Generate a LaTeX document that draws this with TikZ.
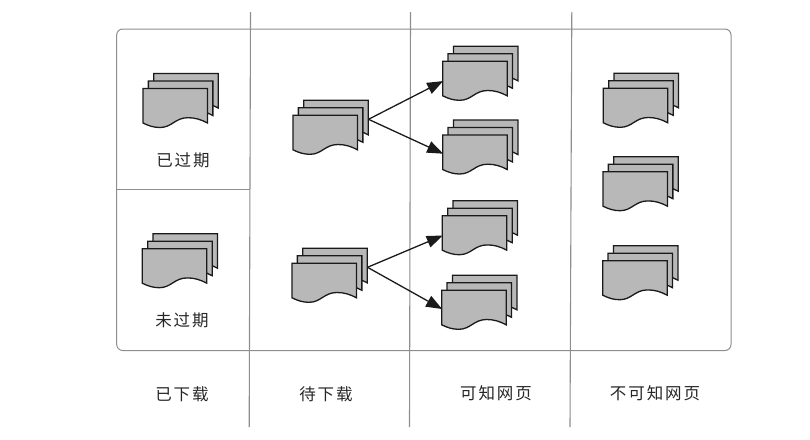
\documentclass[tikz,border=0pt]{standalone}
\usepackage{fontspec}
\newfontfamily\cjkfont[LetterSpace=12]{Noto Sans CJK SC}
\usetikzlibrary{arrows.meta}
\definecolor{sheet}{HTML}{B8B8B8}
\definecolor{rulegray}{HTML}{8E8E8E}
\definecolor{ink}{HTML}{1A1A1A}
\tikzset{
  sheetshape/.style={draw=ink,line width=1.3pt,fill=sheet,line join=miter},
  frameline/.style={draw=rulegray,line width=1pt},
  gridline/.style={draw=rulegray,line width=1.1pt},
  flow/.style={draw=ink,line width=1.3pt,-{Triangle[length=16pt,width=12pt]},shorten >=-0.5pt},
  caption/.style={font=\fontsize{16.5}{16.5}\selectfont\cjkfont,text=black!85,inner sep=0pt,anchor=center},
  docs/.pic={
    \foreach \dx/\dy in {10.7/-15,5.35/-7.5,0/0}{
      \path[sheetshape,shift={(\dx,\dy)}] (0,0) -- (64.5,0) -- (64.5,34.5)
        .. controls (58,31) and (52,29.2) .. (45,29.2)
        .. controls (32,29.2) and (29,39) .. (17,39)
        .. controls (11,39) and (6,37.5) .. (0,34.5) -- cycle;
    }
    \coordinate (-out) at (75.5,4);
    \coordinate (-in) at (0,20);
    \coordinate (-inlow) at (0,18.5);
  }
}
\begin{document}
\begin{tikzpicture}[x=1pt,y=-1pt]
\useasboundingbox (0,0) rectangle (810,439);
% frame and grid
\draw[frameline,rounded corners=6pt] (116.7,29) rectangle (731,350.5);
\draw[frameline] (116.7,189.7) -- (250,189.7);
\draw[gridline] (250.5,12) -- (249.2,427);
\draw[gridline] (410.5,12) -- (409.5,427);
\draw[gridline] (571.8,12) -- (570,427);
% stacks
\pic (exp) at (143,88.5) {docs};
\pic (fresh) at (142.3,248.7) {docs};
\pic (wa) at (293,115.3) {docs};
\pic (wb) at (292,263.3) {docs};
\pic (ka) at (442.7,61.3) {docs};
\pic (kb) at (442.7,135) {docs};
\pic (kc) at (442.3,215.7) {docs};
\pic (kd) at (441.7,290.3) {docs};
\pic (ua) at (603.3,88.3) {docs};
\pic (ub) at (603,171.7) {docs};
\pic (uc) at (602.7,260.7) {docs};
% connectors
\draw[flow] (wa-out) -- (ka-in);
\draw[flow] (wa-out) -- (kb-inlow);
\draw[flow] (wb-out) -- (kc-in);
\draw[flow] (wb-out) -- (kd-inlow);
% labels
\node[caption] (l1) at (183,160) {已过期};
\node[caption] (l2) at (182,320.7) {未过期};
\node[caption] (l3) at (182,394) {已下载};
\node[caption] (l4) at (326,394) {待下载};
\node[caption] (l5) at (496,393.3) {可知网页};
\node[caption] (l6) at (655,393.3) {不可知网页};
\end{tikzpicture}
\end{document}
